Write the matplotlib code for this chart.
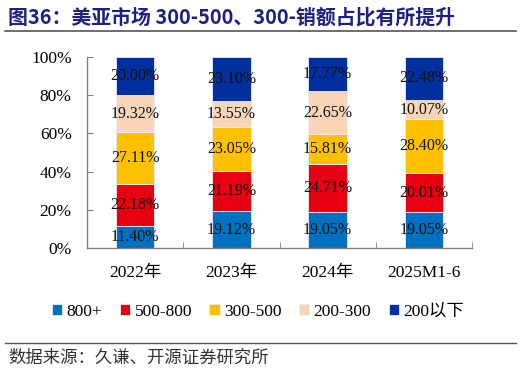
import matplotlib
matplotlib.use("Agg")
import matplotlib.pyplot as plt
import numpy as np

categories = ["2022年", "2023年", "2024年", "2025M1-6"]
series_names = ["800+", "500-800", "300-500", "200-300", "200以下"]
v_800p = [11.40, 19.12, 19.05, 19.05]
v_500_800 = [22.18, 21.19, 24.71, 20.01]
v_300_500 = [27.11, 23.05, 15.81, 28.40]
v_200_300 = [19.32, 13.55, 22.65, 10.07]
v_200m = [20.00, 23.10, 17.77, 22.48]
y_ticks = [0, 20, 40, 60, 80, 100]

colors = ["#0070C0", "#E60012", "#FFC000", "#FAD4B6", "#0030A0"]

serif = ["Liberation Serif", "Noto Sans CJK SC"]
cjk = ["Noto Sans CJK SC", "DejaVu Sans"]

fig = plt.figure(figsize=(5.22, 3.73), dpi=100)
ax = fig.add_axes([87/522, 1-248/373, (472-87)/522, (248-57)/373])

x = np.arange(len(categories))
bottom = np.zeros(len(categories))
all_series = [v_800p, v_500_800, v_300_500, v_200_300, v_200m]
for name, vals, col in zip(series_names, all_series, colors):
    vals = np.array(vals)
    ax.bar(x, vals, 0.4, bottom=bottom, color=col, edgecolor="#E8EEF8",
           linewidth=0.6, label=name, zorder=2)
    for xi, b, v in zip(x, bottom, vals):
        ax.text(xi, b + v/2, f"{v:.2f}%", ha="center", va="center",
                fontsize=11.5, family=serif, color="#111111", zorder=3)
    bottom += vals

ax.set_xlim(-0.5, 3.5)
ax.set_ylim(0, 100)
ax.set_yticks(y_ticks)
ax.set_yticklabels([f"{t}%" for t in y_ticks], family=serif, fontsize=12.5)
ax.set_xticks(x)
ax.set_xticklabels(categories, family=serif, fontsize=12.5)
ax.set_xticks([0.5, 1.5, 2.5, 3.5], minor=True)
ax.tick_params(axis="x", which="major", length=0, pad=12)
ax.tick_params(axis="x", which="minor", direction="in", length=4, color="#808080")
ax.tick_params(axis="y", direction="in", length=4, color="#808080", pad=11)
for s in ["top", "right"]:
    ax.spines[s].set_visible(False)
for s in ["left", "bottom"]:
    ax.spines[s].set_color("#808080")
    ax.spines[s].set_linewidth(1.0)

fig.legend(loc="center", bbox_to_anchor=(258/522, 1-312/373), ncol=5,
           frameon=False, prop={"family": serif, "size": 12.5},
           handlelength=0.6, handleheight=0.6, handletextpad=0.25,
           columnspacing=1.0)

fig.text(8/522, 1-17/373, "图36：美亚市场 300-500、300-销额占比有所提升",
         family=cjk, fontsize=14.3, fontweight="bold", color="#1F2080",
         ha="left", va="center")
fig.add_artist(plt.Line2D([5/522, 516/522], [1-31/373, 1-31/373],
                          color="#555555", linewidth=1.2))
fig.add_artist(plt.Line2D([5/522, 516/522], [1-343/373, 1-343/373],
                          color="#555555", linewidth=1.0))
fig.text(8/522, 1-358/373, "数据来源：久谦、开源证券研究所",
         family=cjk, fontsize=12.5, color="#333333", ha="left", va="center")

fig.savefig("out.png", dpi=100)
